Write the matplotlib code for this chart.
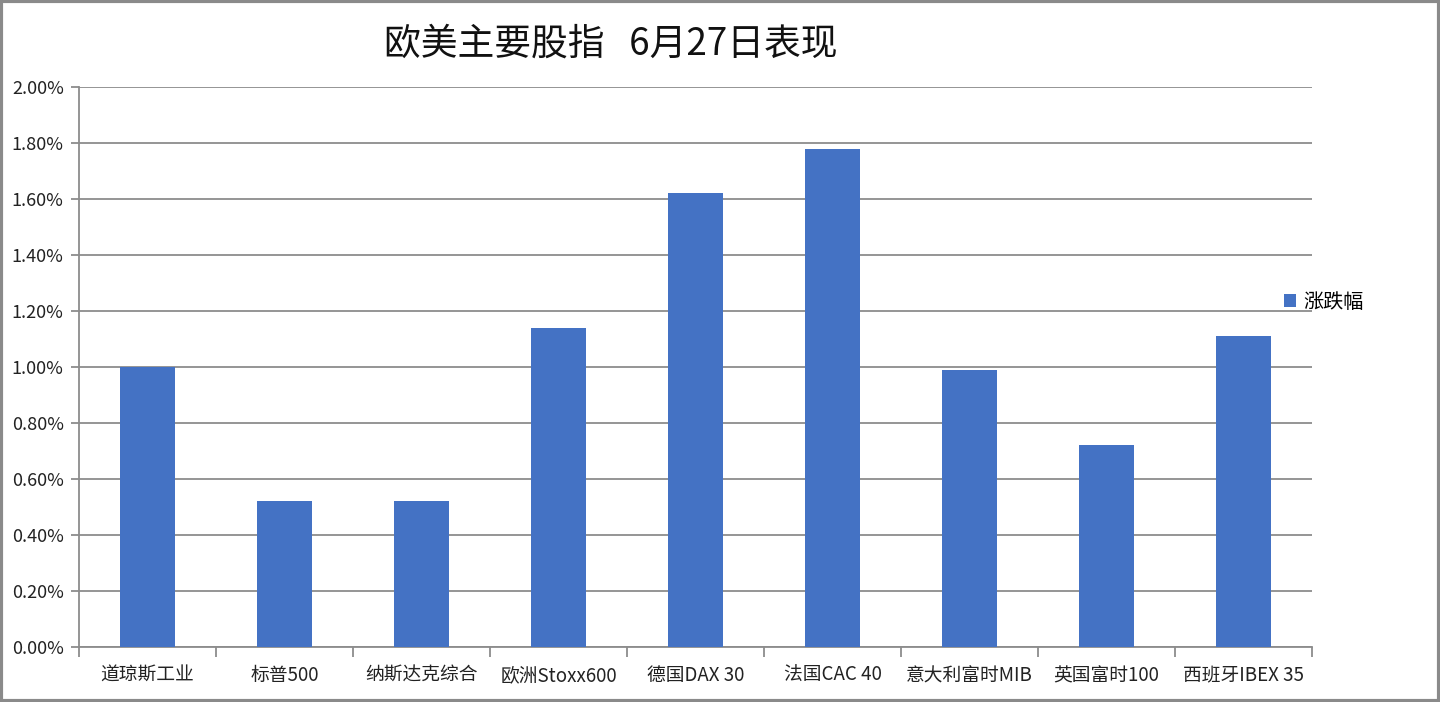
import numpy as np
import matplotlib.pyplot as plt
from matplotlib.patches import Rectangle

plt.rcParams['font.family'] = ['Noto Sans CJK SC', 'DejaVu Sans']

# 6月27日 欧美主要股指涨跌幅 (%)
indices = ['道琼斯工业', '标普500', '纳斯达克综合', '欧洲Stoxx600', '德国DAX 30',
           '法国CAC 40', '意大利富时MIB', '英国富时100', '西班牙IBEX 35']
changes = [1.00, 0.52, 0.52, 1.14, 1.62, 1.78, 0.99, 0.72, 1.11]
yticks = [0.0, 0.2, 0.4, 0.6, 0.8, 1.0, 1.2, 1.4, 1.6, 1.8, 2.0]

bar_color = '#4472C4'
grid_color = '#8c8c8c'

fig = plt.figure(figsize=(14.4, 7.02), dpi=100)
ax = fig.add_axes([79 / 1440, 55 / 702, 1233 / 1440, 560 / 702])

x = np.arange(len(indices))
ax.bar(x, changes, width=0.4, color=bar_color, zorder=3, label='涨跌幅')

ax.set_xlim(-0.5, len(indices) - 0.5)
ax.set_ylim(0, 2.0)
ax.set_yticks(yticks)
ax.set_yticklabels([f'{v:.2f}%' for v in yticks], fontsize=13, color='#222222')
ax.yaxis.grid(True, color=grid_color, linewidth=1.3, zorder=0)

# category labels in the middle, tick marks on the boundaries
ax.set_xticks(x)
ax.set_xticklabels(indices, fontsize=13.5, color='#222222')
ax.tick_params(axis='x', which='major', length=0, pad=13)
ax.set_xticks(np.arange(-0.5, len(indices)), minor=True)
ax.tick_params(axis='x', which='minor', length=7, width=1.3, color=grid_color)
ax.tick_params(axis='y', length=6, width=1.3, color=grid_color, pad=5)

for side in ['top', 'right']:
    ax.spines[side].set_visible(False)
for side in ['left', 'bottom']:
    ax.spines[side].set_color(grid_color)
    ax.spines[side].set_linewidth(1.3)

ax.legend(loc='center left', bbox_to_anchor=(1266 / 1440, 1 - 302 / 702),
          bbox_transform=fig.transFigure, frameon=False, fontsize=14.5,
          handlelength=0.6, handleheight=0.6, handletextpad=0.35)

fig.text(611 / 1440, 1 - 44 / 702, '欧美主要股指   6月27日表现', fontsize=26.5,
         ha='center', va='center', color='#111111')

# gray frame around the whole chart
fig.patches.append(Rectangle((0.001, 0.002), 0.998, 0.996, transform=fig.transFigure,
                             fill=False, edgecolor='#8a8a8a', linewidth=3))

fig.savefig('out.png', dpi=100)
